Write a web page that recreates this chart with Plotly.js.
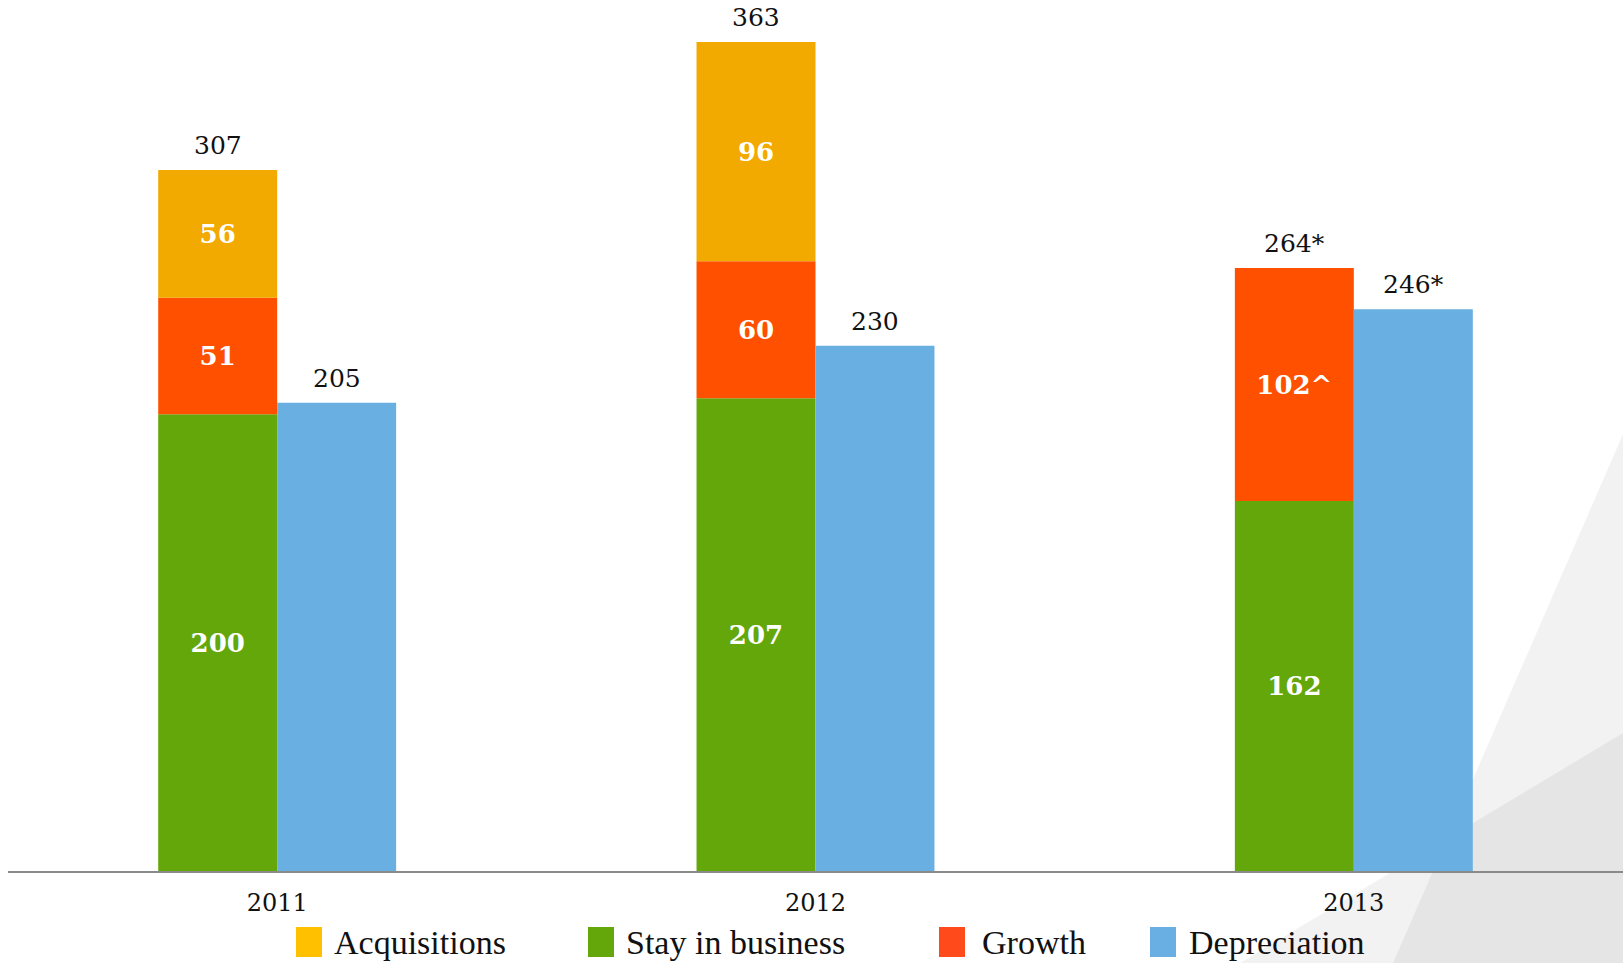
<!DOCTYPE html>
<html><head><meta charset="utf-8">
<script src="https://cdn.plot.ly/plotly-3.0.1.min.js"></script>
<style>html,body{margin:0;padding:0;background:#fff;} #chart{width:1623px;height:963px;}</style>
</head><body><div id="chart"></div>
<script>
// ---- data ----
const years = ['2011', '2012', '2013'];
const stayInBusiness = [200, 207, 162];
const growth = [51, 60, 102];
const acquisitions = [56, 96, null];
const depreciation = [205, 230, 246];
const stayLabels = ['200', '207', '162'];
const growthLabels = ['51', '60', '102^'];
const acquisitionLabels = ['56', '96', ''];
const totalLabels = ['307', '363', '264*'];
const depreciationLabels = ['205', '230', '246*'];
const seriesNames = ['Acquisitions', 'Stay in business', 'Growth', 'Depreciation'];

// ---- style ----
const W = 1623, H = 963, ML = 8, MR = 0, MT = 0, MB = 92;
const barColors = {acq: '#F2A900', stay: '#64A70B', growth: '#FF5000', dep: '#69AFE2'};
const legendColors = ['#FFC000', '#63A70A', '#FF4A1C', '#6AAFE3'];
const BW = 0.221;
const serif = 'DejaVu Serif, Georgia, serif';
const inFont = {family: serif, size: 26, color: '#ffffff', weight: 'bold'};

const px2x = p => (p - ML) / (W - ML - MR);
const py2y = p => (H - MB - p) / (H - MB - MT);

const base2 = stayInBusiness.map((v, i) => v + growth[i]);
const totals = stayInBusiness.map((v, i) => v + growth[i] + (acquisitions[i] || 0));

function stackTrace(name, y, base, color, text) {
  return {
    type: 'bar', name: name, x: years, y: y, base: base,
    width: BW, offset: -BW,
    marker: {color: color, line: {width: 0}},
    text: text, textposition: 'inside', insidetextanchor: 'middle',
    textangle: 0, constraintext: 'none',
    insidetextfont: inFont, hoverinfo: 'skip', showlegend: false
  };
}

const traces = [
  stackTrace(seriesNames[1], stayInBusiness, years.map(() => 0), barColors.stay, stayLabels),
  stackTrace(seriesNames[2], growth, stayInBusiness, barColors.growth, growthLabels),
  stackTrace(seriesNames[0], acquisitions, base2, barColors.acq, acquisitionLabels),
  {
    type: 'bar', name: seriesNames[3], x: years, y: depreciation,
    width: BW, offset: 0, marker: {color: barColors.dep, line: {width: 0}},
    hoverinfo: 'skip', showlegend: false
  }
];

const annotations = [];
years.forEach((yr, i) => {
  annotations.push({x: i - BW / 2, y: totals[i], xref: 'x', yref: 'y', text: totalLabels[i],
    showarrow: false, yanchor: 'bottom', yshift: 8,
    font: {family: serif, size: 25, color: '#111'}});
  annotations.push({x: i + BW / 2, y: depreciation[i], xref: 'x', yref: 'y', text: depreciationLabels[i],
    showarrow: false, yanchor: 'bottom', yshift: 8,
    font: {family: serif, size: 25, color: '#111'}});
});

// manual legend
const swatchX = [296, 588, 939, 1150];
const textX = [332, 624, 980, 1187];
const shapes = [
  // background facets
  {type: 'path', xref: 'paper', yref: 'paper', layer: 'below',
   path: `M${px2x(1623)},${py2y(434)} L${px2x(1393)},${py2y(963)} L${px2x(1623)},${py2y(963)} Z`,
   fillcolor: 'rgba(0,0,0,0.05)', line: {width: 0}},
  {type: 'path', xref: 'paper', yref: 'paper', layer: 'below',
   path: `M${px2x(1623)},${py2y(733)} L${px2x(1240)},${py2y(963)} L${px2x(1623)},${py2y(963)} Z`,
   fillcolor: 'rgba(0,0,0,0.05)', line: {width: 0}}
];
seriesNames.forEach((n, i) => {
  shapes.push({type: 'rect', xref: 'paper', yref: 'paper',
    x0: px2x(swatchX[i]), x1: px2x(swatchX[i] + 26), y0: py2y(927), y1: py2y(957),
    fillcolor: legendColors[i], line: {width: 0}});
  annotations.push({xref: 'paper', yref: 'paper', x: px2x(textX[i]), y: py2y(942),
    xanchor: 'left', yanchor: 'middle', showarrow: false, text: n,
    font: {family: 'Liberation Serif, Times New Roman, serif', size: 34, color: '#111'}});
});

const layout = {
  width: W, height: H,
  margin: {l: ML, r: MR, t: MT, b: MB},
  paper_bgcolor: '#ffffff', plot_bgcolor: 'rgba(0,0,0,0)',
  barmode: 'overlay', showlegend: false,
  xaxis: {type: 'category', categoryorder: 'array', categoryarray: years,
    range: [-0.5, 2.5], showline: true, linecolor: '#8a8a8a', linewidth: 2,
    ticks: 'outside', ticklen: 9, tickcolor: 'rgba(0,0,0,0)', showgrid: false, zeroline: false,
    tickfont: {family: serif, size: 24, color: '#111'}, fixedrange: true},
  yaxis: {range: [0, 381.4], showgrid: false, zeroline: false, showticklabels: false,
    ticks: '', showline: false, fixedrange: true},
  annotations: annotations, shapes: shapes
};

Plotly.newPlot('chart', traces, layout, {displayModeBar: false, staticPlot: true});
</script>
</body></html>
